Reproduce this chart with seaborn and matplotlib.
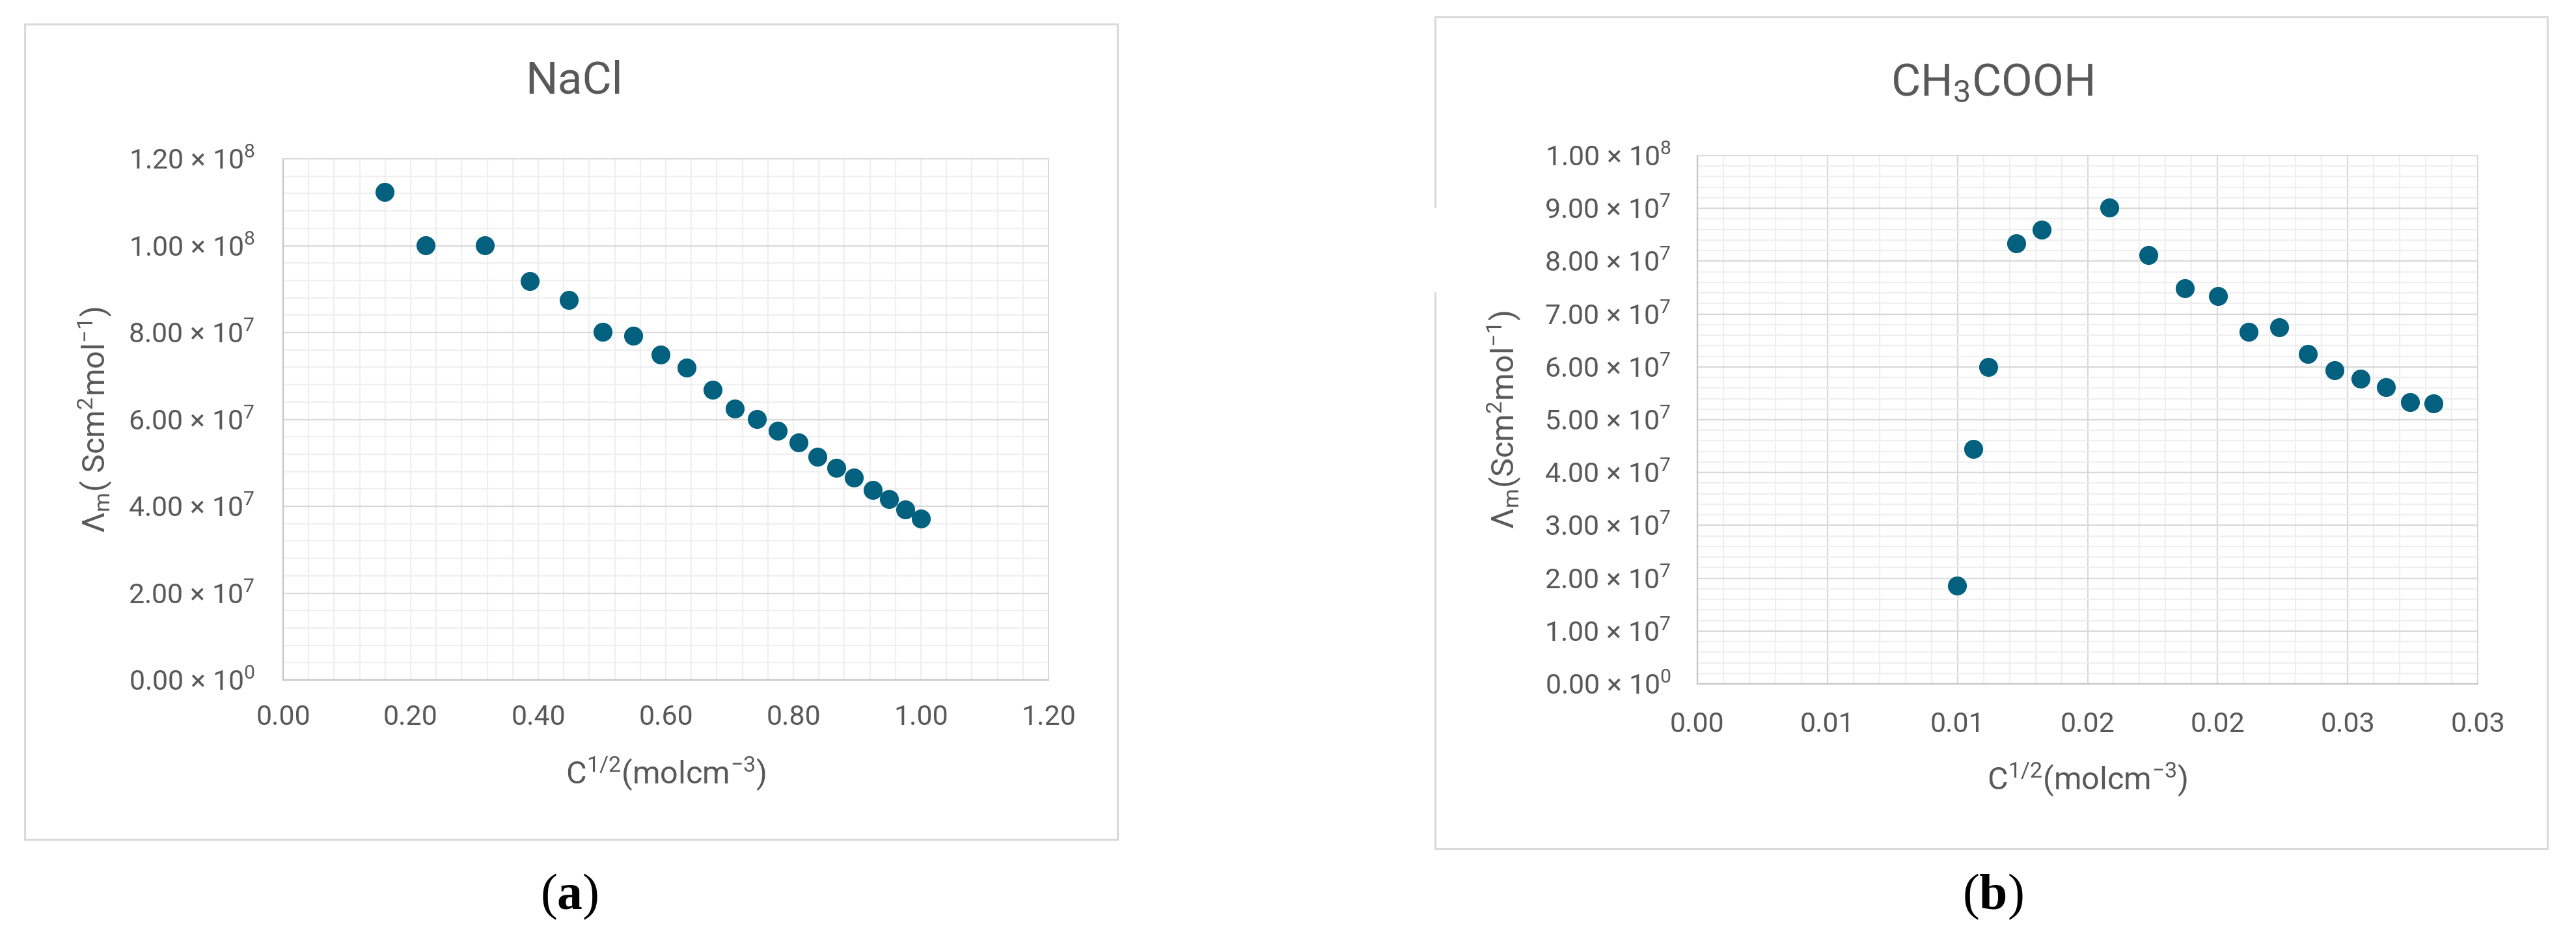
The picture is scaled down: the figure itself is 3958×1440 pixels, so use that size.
import numpy as np
import pandas as pd
import matplotlib
matplotlib.use("Agg")
import matplotlib.pyplot as plt
import seaborn as sns
from matplotlib.ticker import MultipleLocator, FuncFormatter
from matplotlib.lines import Line2D
from decimal import Decimal, ROUND_HALF_UP

# ---------------- data ----------------
nacl_x = [0.159, 0.223, 0.316, 0.387, 0.448, 0.501, 0.549, 0.592, 0.633, 0.673, 0.708,
          0.743, 0.776, 0.808, 0.838, 0.867, 0.895, 0.924, 0.950, 0.976, 1.000]
nacl_y = [1.124e8, 1.001e8, 1.001e8, 9.18e7, 8.75e7, 8.02e7, 7.92e7, 7.49e7, 7.19e7, 6.68e7, 6.25e7,
          6.01e7, 5.74e7, 5.47e7, 5.14e7, 4.88e7, 4.66e7, 4.38e7, 4.16e7, 3.93e7, 3.72e7]

acid_x = [0.00998, 0.01062, 0.01119, 0.01226, 0.01324, 0.01584, 0.01734, 0.01875, 0.02002,
          0.02120, 0.02236, 0.02348, 0.02449, 0.02550, 0.02648, 0.02740, 0.02830]
acid_y = [1.86e7, 4.44e7, 6.00e7, 8.34e7, 8.59e7, 9.02e7, 8.12e7, 7.49e7, 7.34e7,
          6.66e7, 6.75e7, 6.24e7, 5.93e7, 5.77e7, 5.62e7, 5.33e7, 5.31e7]

titles = ["NaCl", r"CH$_{3}$COOH"]
ylabels = [r"Λ$_{\mathrm{m}}$( Scm$^{2}$mol$^{-1}$)", r"Λ$_{\mathrm{m}}$(Scm$^{2}$mol$^{-1}$)"]
xlabel = r"C$^{1/2}$(molcm$^{-3}$)"
panel_tags = [r"($\mathbf{a}$)", r"($\mathbf{b}$)"]

# ---------------- style ----------------
sns.set_theme(style="white")
plt.rcParams["font.family"] = ["Roboto", "DejaVu Sans"]
plt.rcParams["mathtext.fontset"] = "custom"
plt.rcParams["mathtext.rm"] = "Roboto"
plt.rcParams["mathtext.it"] = "Roboto:italic"
plt.rcParams["mathtext.bf"] = "Liberation Serif:bold"

TXT = "#595959"
MARK = "#03607f"
GRID_MAJ = "#d9d9d9"
GRID_MIN = "#efefef"

W, H = 3958, 1440
fig = plt.figure(figsize=(W / 100, H / 100), dpi=100)
fig.patch.set_facecolor("white")


def ax_rect(left, top, right, bottom):
    return [left / W, 1 - bottom / H, (right - left) / W, (bottom - top) / H]


def sci_fmt(v, pos):
    if abs(v) < 1e-9:
        return r"0.00 × 10$^{0}$"
    e = int(np.floor(np.log10(abs(v)) + 1e-9))
    m = v / 10 ** e
    return f"{m:.2f} × 10$^{{{e}}}$"


def half_up(v, pos):
    d = Decimal(f"{float(v):.6f}").quantize(Decimal("0.01"), rounding=ROUND_HALF_UP)
    return f"{d:.2f}"


def style_axes(ax):
    ax.set_facecolor("white")
    ax.set_axisbelow(True)
    for s in ["left", "bottom"]:
        ax.spines[s].set_color("#c6c6c6")
        ax.spines[s].set_linewidth(1.6)
    for s in ["top", "right"]:
        ax.spines[s].set_color(GRID_MAJ)
        ax.spines[s].set_linewidth(1.4)
    ax.tick_params(axis="both", which="both", length=0, labelsize=31, labelcolor=TXT)


# ---------------- panel (a) ----------------
axa = fig.add_axes(ax_rect(435, 244, 1611, 1045))
df_a = pd.DataFrame({"x": nacl_x, "y": nacl_y})
sns.scatterplot(data=df_a, x="x", y="y", ax=axa, color=MARK, s=440, linewidth=0, zorder=3)
axa.set_xlim(0, 1.2)
axa.set_ylim(0, 1.2e8)
axa.xaxis.set_major_locator(MultipleLocator(0.2))
axa.xaxis.set_minor_locator(MultipleLocator(0.04))
axa.yaxis.set_major_locator(MultipleLocator(2e7))
axa.yaxis.set_minor_locator(MultipleLocator(4e6))
axa.xaxis.set_major_formatter(FuncFormatter(lambda v, p: f"{v:.2f}"))
axa.yaxis.set_major_formatter(FuncFormatter(sci_fmt))
style_axes(axa)
axa.grid(which="major", axis="y", color=GRID_MAJ, linewidth=1.6)
axa.grid(which="major", axis="x", color=GRID_MIN, linewidth=1.6)
axa.grid(which="minor", axis="both", color=GRID_MIN, linewidth=1.6)
axa.tick_params(axis="y", pad=31)
axa.tick_params(axis="x", pad=27)

# ---------------- panel (b) ----------------
axb = fig.add_axes(ax_rect(2608, 239, 3807, 1051))
df_b = pd.DataFrame({"x": acid_x, "y": acid_y})
sns.scatterplot(data=df_b, x="x", y="y", ax=axb, color=MARK, s=440, linewidth=0, zorder=3)
axb.set_xlim(0, 0.03)
axb.set_ylim(0, 1.0e8)
axb.xaxis.set_major_locator(MultipleLocator(0.005))
axb.xaxis.set_minor_locator(MultipleLocator(0.001))
axb.yaxis.set_major_locator(MultipleLocator(1e7))
axb.yaxis.set_minor_locator(MultipleLocator(2e6))
axb.xaxis.set_major_formatter(FuncFormatter(half_up))
axb.yaxis.set_major_formatter(FuncFormatter(sci_fmt))
style_axes(axb)
axb.grid(which="major", axis="both", color=GRID_MAJ, linewidth=1.6)
axb.grid(which="minor", axis="both", color=GRID_MIN, linewidth=1.6)
axb.tick_params(axis="y", pad=29)
axb.tick_params(axis="x", pad=30)

# ---------------- labels & titles ----------------
for ax, ttl, yl, tx, ty, ylx, xly in [
    (axa, titles[0], ylabels[0], 0.380, 1.149, -0.2457, -0.180),
    (axb, titles[1], ylabels[1], 0.3778, 1.137, -0.2477, -0.181),
]:
    ax.set_title(ttl, fontsize=50, color=TXT, y=ty, pad=0, va="center")
    ax.title.set_x(tx)
    ax.set_xlabel(xlabel, fontsize=35, color=TXT)
    ax.set_ylabel(yl, fontsize=35, color=TXT)
    ax.yaxis.set_label_coords(ylx, 0.5)
    ax.yaxis.label.set_va("center")
    ax.xaxis.set_label_coords(0.5, xly)
    ax.xaxis.label.set_va("center")

# panel tags
fig.text(875 / W, 1 - 1378 / H, panel_tags[0], family="Liberation Serif", fontsize=56,
         color="black", ha="center", va="center")
fig.text(3062 / W, 1 - 1378 / H, panel_tags[1], family="Liberation Serif", fontsize=56,
         color="black", ha="center", va="center")


# ---------------- chart-area borders ----------------
def seg(x1, y1, x2, y2, color="#d9d9d9", lw=2.2):
    fig.add_artist(Line2D([x1 / W, x2 / W], [1 - y1 / H, 1 - y2 / H],
                          transform=fig.transFigure, color=color, lw=lw))


# box (a)
seg(38, 37, 1717, 37)
seg(38, 1290, 1717, 1290)
seg(38, 37, 38, 1290)
seg(1717, 37, 1717, 1290)
# box (b) (left border interrupted)
seg(2205, 26, 3914, 26)
seg(2205, 1304, 3914, 1304)
seg(2205, 26, 2205, 318)
seg(2205, 450, 2205, 1304)
seg(3914, 26, 3914, 1304)

fig.savefig("out.png", dpi=100, facecolor="white")
